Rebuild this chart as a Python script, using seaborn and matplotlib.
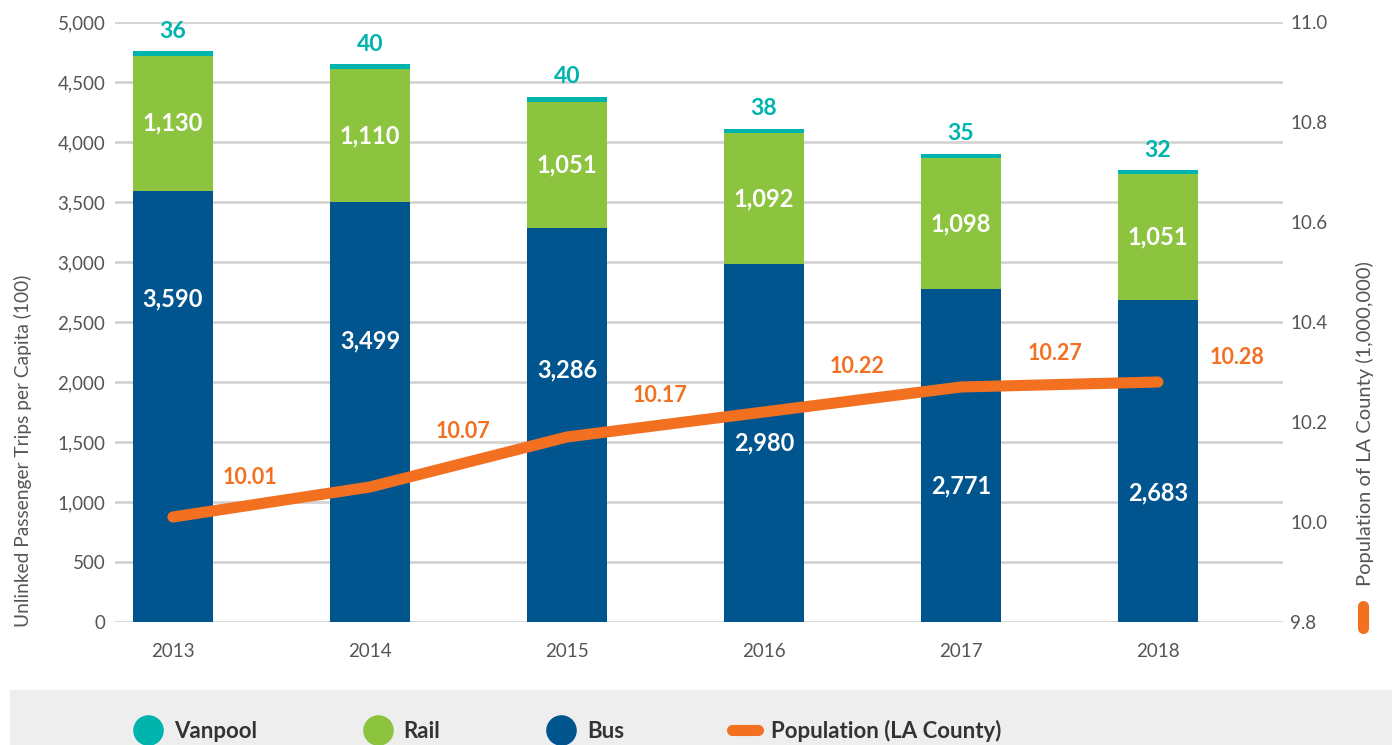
import matplotlib
matplotlib.use("Agg")
import matplotlib.pyplot as plt
from matplotlib.lines import Line2D
from matplotlib.patches import Rectangle
from matplotlib.ticker import FuncFormatter
import numpy as np
import pandas as pd
import seaborn as sns

# data
years = ["2013", "2014", "2015", "2016", "2017", "2018"]
bus = [3590, 3499, 3286, 2980, 2771, 2683]
rail = [1130, 1110, 1051, 1092, 1098, 1051]
vanpool = [36, 40, 40, 38, 35, 32]
population = [10.01, 10.07, 10.17, 10.22, 10.27, 10.28]

# colours
c_bus = "#00558f"
c_rail = "#8cc43f"
c_van = "#00b4ae"
c_pop = "#f37021"
c_txt = "#555555"

# label placement (style only): fraction of bus height, offsets of population labels in px
bus_label_frac = [0.75, 0.67, 0.64, 0.50, 0.41, 0.40]
pop_offsets = [(77, 40), (93, 56), (93, 42), (93, 45), (94, 33), (79, 25)]

sns.set_theme(style="white")
plt.rcParams['font.family'] = ['Lato', 'DejaVu Sans']

df = pd.DataFrame({"year": years, "bus": bus, "rail": rail, "vanpool": vanpool,
                   "population": population})
df["bus_rail"] = df["bus"] + df["rail"]
df["total"] = df["bus_rail"] + df["vanpool"]

fig = plt.figure(figsize=(13.92, 7.45), dpi=100)
ax = fig.add_axes([115 / 1392, 1 - 622 / 745, 1168 / 1392, 600 / 745])

# stacked bars drawn back to front
bar_kw = dict(width=0.41, saturation=1, linewidth=0, ax=ax, zorder=3)
sns.barplot(data=df, x="year", y="total", color=c_van, **bar_kw)
sns.barplot(data=df, x="year", y="bus_rail", color=c_rail, **bar_kw)
sns.barplot(data=df, x="year", y="bus", color=c_bus, **bar_kw)

ax.set_ylim(0, 5000)
ax.set_yticks(np.arange(0, 5001, 500))
ax.yaxis.set_major_formatter(FuncFormatter(lambda v, p: f"{int(v):,}"))
ax.grid(axis="y", color="#d4d4d4", linewidth=2, zorder=0)
ax.set_axisbelow(True)
for s in ax.spines.values():
    s.set_visible(False)
ax.tick_params(axis="y", length=0, pad=7, labelsize=13.5, labelcolor=c_txt)
ax.tick_params(axis="x", length=0, pad=15, labelsize=13.5, labelcolor=c_txt)
ax.set_xlabel("")
ax.set_ylabel("Unlinked Passenger Trips per Capita (100)", fontsize=13.8, color=c_txt)
ax.yaxis.set_label_coords(-0.071, 0.285)

# bar labels
for i in range(len(years)):
    ax.text(i, bus[i] * bus_label_frac[i], f"{bus[i]:,}", ha="center", va="center",
            color="white", fontsize=17, fontweight="bold", zorder=5)
    ax.text(i, bus[i] + rail[i] / 2, f"{rail[i]:,}", ha="center", va="center",
            color="white", fontsize=17, fontweight="bold", zorder=5)
    ax.annotate(f"{vanpool[i]}", (i, df["total"][i]), xytext=(0, 20),
                textcoords="offset pixels", ha="center", va="center",
                color=c_van, fontsize=16.5, fontweight="bold", zorder=5)

# population line on the right axis
ax2 = ax.twinx()
sns.pointplot(data=df, x="year", y="population", color=c_pop, markers="",
              linewidth=8, ax=ax2)
for ln in ax2.lines:
    ln.set_solid_capstyle("round")
ax2.set_ylim(9.8, 11.0)
ax2.set_yticks(np.arange(9.8, 11.01, 0.2))
ax2.yaxis.set_major_formatter(FuncFormatter(lambda v, p: f"{v:.1f}"))
for s in ax2.spines.values():
    s.set_visible(False)
ax2.tick_params(axis="y", length=0, pad=5, labelsize=13.5, labelcolor=c_txt)
ax2.set_ylabel("Population of LA County (1,000,000)", fontsize=14.5, color=c_txt)
ax2.yaxis.set_label_coords(1.0625, 0.33)
ax2.grid(False)
for i in range(len(years)):
    ax2.annotate(f"{population[i]:.2f}", (i, population[i]), xytext=pop_offsets[i],
                 textcoords="offset pixels", ha="center", va="center",
                 color=c_pop, fontsize=15.5, fontweight="bold")

ax.set_xlim(-0.294, 5.635)
ax2.set_xlim(-0.294, 5.635)

# little orange swatch under the right axis title
fig.add_artist(Line2D([1363 / 1392, 1363 / 1392], [1 - 628 / 745, 1 - 606 / 745],
                      color=c_pop, linewidth=8, solid_capstyle="round"))

# grey legend band
fig.add_artist(Rectangle((10 / 1392, 0), 1 - 10 / 1392, 55 / 745,
                         transform=fig.transFigure, color="#eeeeee", zorder=0))
handles = [
    Line2D([], [], marker="o", linestyle="none", markersize=21, color=c_van),
    Line2D([], [], marker="o", linestyle="none", markersize=21, color=c_rail),
    Line2D([], [], marker="o", linestyle="none", markersize=21, color=c_bus),
    Line2D([], [], color=c_pop, linewidth=8, solid_capstyle="round"),
]
leg = fig.legend(handles, ["Vanpool", "Rail", "Bus", "Population (LA County)"],
                 loc="center", bbox_to_anchor=(568 / 1392, 14 / 745), ncol=4,
                 frameon=False, handlelength=1.2, handletextpad=0.55, columnspacing=4.85,
                 prop={"weight": "bold", "size": 16})
for t in leg.get_texts():
    t.set_color("#333333")

fig.savefig("out.png", dpi=100)
